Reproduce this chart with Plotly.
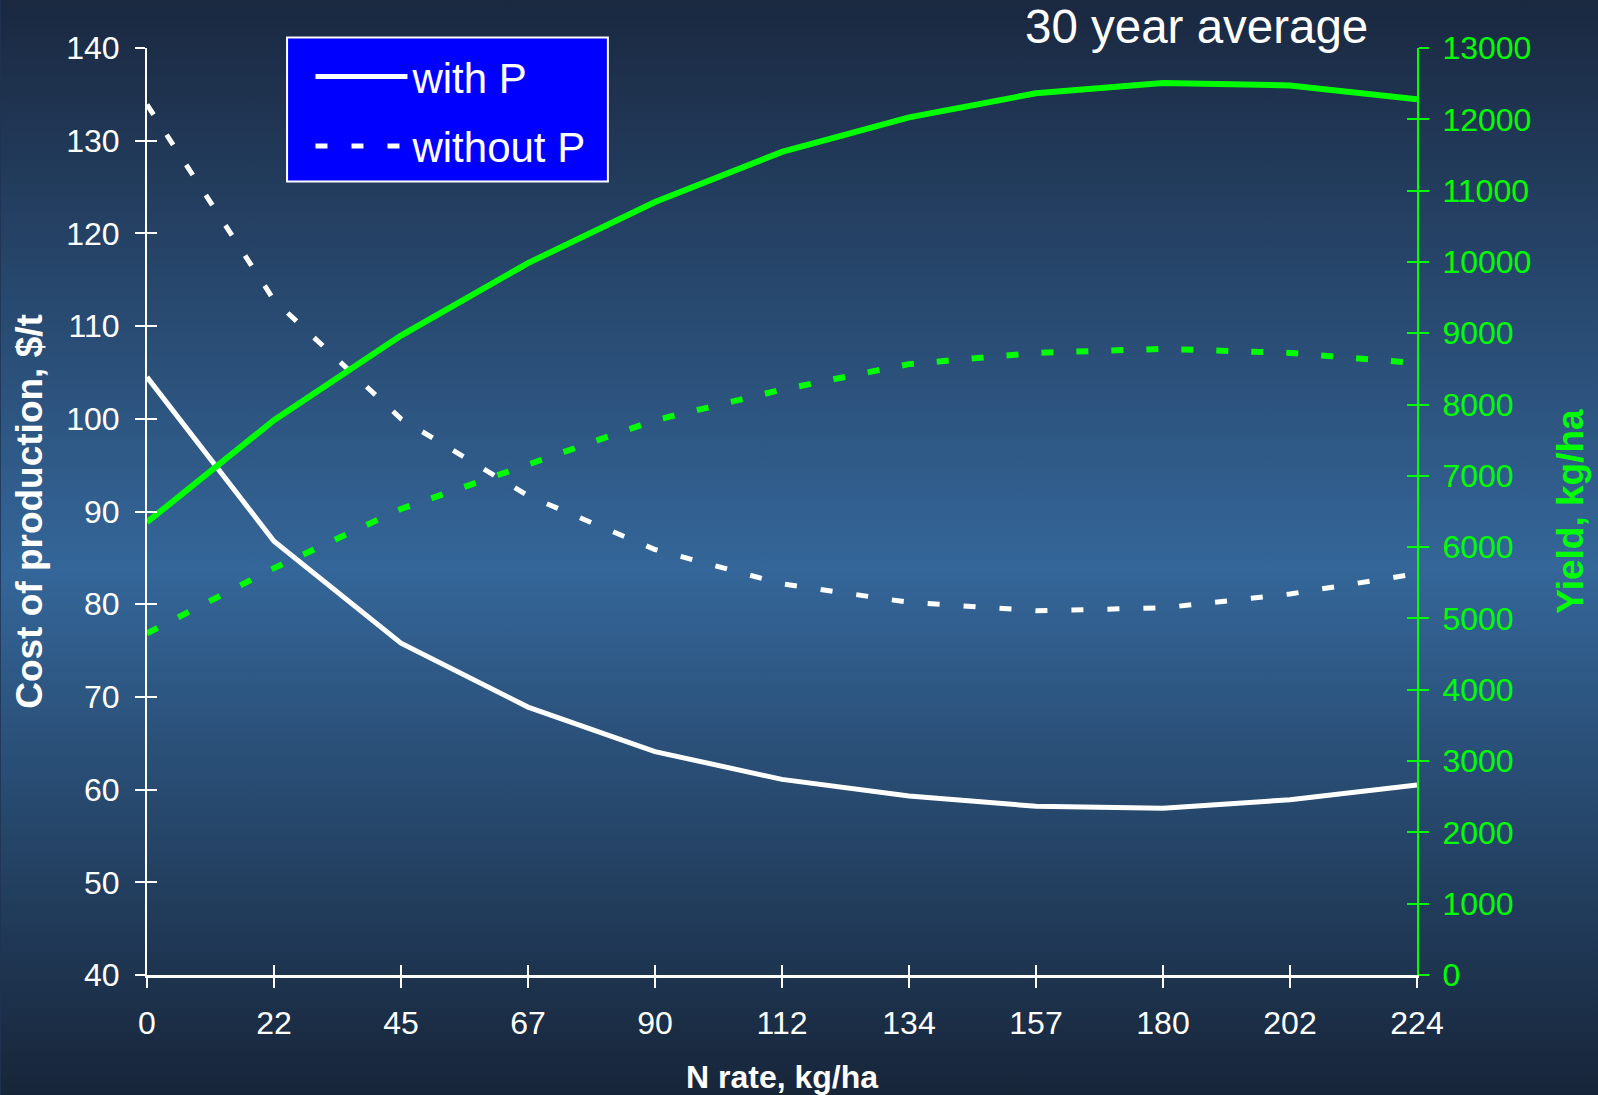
import base64
import plotly.graph_objects as go

# N rate categories (kg/ha)
N_RATE = ["0", "22", "45", "67", "90", "112", "134", "157", "180", "202", "224"]

# Cost of production, $/t
COST_WITH_P = [104.5, 86.8, 75.8, 68.9, 64.1, 61.1, 59.3, 58.2, 58.0, 58.9, 60.5]
COST_WITHOUT_P = [133.9, 112.8, 100.0, 91.7, 85.9, 82.2, 80.2, 79.3, 79.6, 81.1, 83.3]

# Grain yield, kg/ha
YIELD_WITH_P = [6350, 7780, 8967, 9983, 10841, 11542, 12028, 12365, 12510, 12475, 12280]
YIELD_WITHOUT_P = [4791, 5706, 6536, 7151, 7780, 8209, 8567, 8724, 8781, 8724, 8581]

COST_RANGE = [40, 140]
YIELD_RANGE = [0, 13000]

W, H = 1598, 1095
ML, MR, MT, MB = 146.5, 181.2, 48.3, 120.0
PW, PH = W - ML - MR, H - MT - MB


def px_x(x):
    """figure pixel column -> paper x"""
    return (x - ML) / PW


def px_y(y):
    """figure pixel row -> paper y"""
    return (H - MB - y) / PH


FONT = "Liberation Sans, Arial, sans-serif"
GREEN = "#00ff00"
WHITE = "#ffffff"

fig = go.Figure()

fig.add_trace(go.Scatter(
    x=N_RATE, y=COST_WITH_P, name="with P", mode="lines", legendgroup="a",
    line=dict(color=WHITE, width=5), xaxis="x", yaxis="y",
))
fig.add_trace(go.Scatter(
    x=N_RATE, y=COST_WITHOUT_P, name="without P", mode="lines", legendgroup="b",
    line=dict(color=WHITE, width=5, dash="12px,24px"), xaxis="x", yaxis="y",
))
fig.add_trace(go.Scatter(
    x=N_RATE, y=YIELD_WITH_P, name="yield with P", mode="lines", showlegend=False,
    line=dict(color=GREEN, width=6), xaxis="x", yaxis="y2",
))
fig.add_trace(go.Scatter(
    x=N_RATE, y=YIELD_WITHOUT_P, name="yield without P", mode="lines", showlegend=False,
    line=dict(color=GREEN, width=6, dash="12px,23px"), xaxis="x", yaxis="y2",
))

# invisible carriers so the inner-tick overlay axes get drawn
fig.add_trace(go.Scatter(
    x=[0, len(N_RATE) - 1], y=COST_RANGE, mode="lines", showlegend=False,
    hoverinfo="skip", opacity=0, line=dict(width=0), xaxis="x3", yaxis="y3",
))
fig.add_trace(go.Scatter(
    x=[0, len(N_RATE) - 1], y=YIELD_RANGE, mode="lines", showlegend=False,
    hoverinfo="skip", opacity=0, line=dict(width=0), xaxis="x3", yaxis="y4",
))

# vertical background gradient: dark edges, lighter slate blue in the middle
svg = (
    f"<svg xmlns='http://www.w3.org/2000/svg' width='{W}' height='{H}' "
    f"viewBox='0 0 {W} {H}' preserveAspectRatio='none'>"
    "<defs><linearGradient id='g' x1='0' y1='0' x2='0' y2='1'>"
    "<stop offset='0' stop-color='#1a2840'/>"
    "<stop offset='0.52' stop-color='#346699'/>"
    "<stop offset='1' stop-color='#172539'/>"
    "</linearGradient></defs>"
    f"<rect x='0' y='0' width='{W}' height='{H}' fill='url(#g)'/></svg>"
)
bg_src = "data:image/svg+xml;base64," + base64.b64encode(svg.encode()).decode()

tick_font = dict(family=FONT, size=32, color=WHITE)
green_tick_font = dict(family=FONT, size=32, color=GREEN)
inner_ticks = dict(
    ticks="inside", ticklen=10, tickwidth=2,
    showticklabels=False, showline=False, showgrid=False, zeroline=False,
)

fig.update_layout(
    width=W, height=H,
    margin=dict(l=ML, r=MR, t=MT, b=MB, autoexpand=False),
    paper_bgcolor="#1f3352",
    plot_bgcolor="rgba(0,0,0,0)",
    font=dict(family=FONT, color=WHITE),
    hovermode=False,
    images=[dict(
        source=bg_src, xref="paper", yref="paper",
        x=-ML / PW, y=1 + MT / PH, sizex=W / PW, sizey=H / PH,
        xanchor="left", yanchor="top", sizing="stretch", layer="below",
    )],
    xaxis=dict(
        type="category", range=[0, len(N_RATE) - 1],
        showline=True, linecolor=WHITE, linewidth=2.5,
        ticks="outside", ticklen=10, tickwidth=2, tickcolor=WHITE,
        tickfont=tick_font, ticklabelstandoff=8,
        showgrid=False, zeroline=False,
        title=dict(text="<b>N rate, kg/ha</b>", font=dict(family=FONT, size=32, color=WHITE), standoff=28),
    ),
    xaxis3=dict(
        overlaying="x", anchor="y3", side="bottom", range=[0, len(N_RATE) - 1],
        tickmode="linear", tick0=0, dtick=1, tickcolor=WHITE, **inner_ticks,
    ),
    yaxis=dict(
        range=COST_RANGE, tickmode="linear", tick0=40, dtick=10,
        showline=True, linecolor=WHITE, linewidth=2,
        ticks="outside", ticklen=10, tickwidth=2, tickcolor=WHITE,
        tickfont=tick_font, ticklabelstandoff=9,
        showgrid=False, zeroline=False,
        title=dict(text="<b>Cost of production, $/t</b>", font=dict(family=FONT, size=37, color=WHITE), standoff=12),
    ),
    yaxis3=dict(
        overlaying="y", anchor="x3", side="left", range=COST_RANGE,
        tickmode="linear", tick0=40, dtick=10, tickcolor=WHITE, **inner_ticks,
    ),
    yaxis2=dict(
        overlaying="y", side="right", anchor="x", range=YIELD_RANGE,
        tickmode="linear", tick0=0, dtick=1000, tickformat="d",
        showline=True, linecolor=GREEN, linewidth=2,
        ticks="outside", ticklen=10, tickwidth=2, tickcolor=GREEN,
        tickfont=green_tick_font, ticklabelstandoff=7,
        showgrid=False, zeroline=False,
        title=dict(text="<b>Yield, kg/ha</b>", font=dict(family=FONT, size=37, color=GREEN), standoff=27),
    ),
    yaxis4=dict(
        overlaying="y", side="right", anchor="x3", range=YIELD_RANGE,
        tickmode="linear", tick0=0, dtick=1000, tickcolor=GREEN, **inner_ticks,
    ),
    legend=dict(
        x=px_x(310), y=px_y(43), xanchor="left", yanchor="top",
        bgcolor="rgba(0,0,0,0)", borderwidth=0,
        font=dict(family=FONT, size=42, color=WHITE),
        itemwidth=92, tracegroupgap=12, traceorder="grouped",
    ),
    shapes=[dict(
        type="rect", xref="paper", yref="paper", layer="above",
        x0=px_x(286.6), x1=px_x(607.5), y0=px_y(181.7), y1=px_y(37.7),
        fillcolor="#0000ff", line=dict(color=WHITE, width=2),
    )],
    annotations=[dict(
        text="30 year average", xref="paper", yref="paper",
        x=px_x(1023), y=px_y(27), xanchor="left", yanchor="middle",
        showarrow=False, font=dict(family=FONT, size=47.5, color=WHITE),
    )],
)

fig.write_html("out.html")
